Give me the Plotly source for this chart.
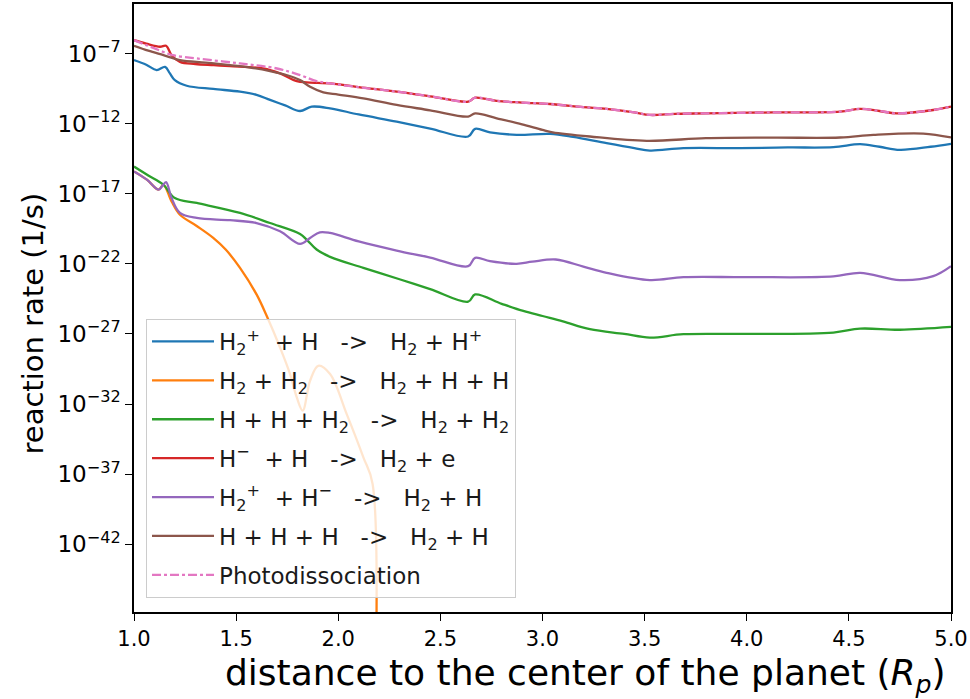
import numpy as np
import plotly.graph_objects as go

# Reaction rates along the radial grid; rates are stored as log10(rate [1/s])
x_h2p_h = [1.0, 1.06, 1.111, 1.152, 1.175, 1.2, 1.258, 1.388, 1.519, 1.6, 1.666, 1.74, 1.813, 1.87, 1.96, 2.1,
           2.286, 2.45, 2.636, 2.67, 2.743, 2.873, 3.037, 3.15, 3.314, 3.45, 3.526, 3.69, 3.967, 4.2, 4.424,
           4.555, 4.65, 4.75, 4.9, 5.0]
log_h2p_h = [-7.47, -7.8, -8.18, -7.95, -8.4, -8.9, -9.3, -9.53, -9.72, -9.95, -10.31, -10.7, -11.1, -10.79,
             -10.91, -11.35, -11.86, -12.35, -12.92, -12.37, -12.62, -12.8, -12.73, -12.95, -13.4, -13.75,
             -13.92, -13.75, -13.75, -13.7, -13.68, -13.47, -13.65, -13.87, -13.65, -13.44]

x_h2_h2 = [1.0, 1.063, 1.12, 1.144, 1.184, 1.225, 1.307, 1.388, 1.45, 1.519, 1.6, 1.65, 1.715, 1.764, 1.797,
           1.826, 1.862, 1.902, 1.96, 2.041, 2.123, 2.168, 2.17]
log_h2_h2 = [-15.41, -16.0, -16.71, -16.36, -17.55, -18.5, -19.3, -20.15, -21.0, -22.29, -24.18, -25.72,
             -27.97, -29.86, -31.53, -32.47, -30.34, -29.27, -29.86, -32.7, -35.8, -37.68, -60.0]

x_hh_h2 = [1.0, 1.07, 1.144, 1.2, 1.307, 1.519, 1.666, 1.813, 1.845, 1.894, 1.96, 2.123, 2.3, 2.45, 2.636,
           2.67, 2.8, 2.906, 3.0, 3.1, 3.232, 3.4, 3.526, 3.69, 4.0, 4.424, 4.555, 4.75, 5.0]
log_hh_h2 = [-15.06, -15.7, -16.36, -17.31, -17.66, -18.37, -19.09, -19.87, -20.27, -20.98, -21.5, -22.29,
             -23.1, -23.8, -24.7, -24.18, -24.85, -25.36, -25.72, -26.1, -26.66, -27.0, -27.26, -27.02,
             -27.0, -26.9, -26.62, -26.7, -26.5]

x_hm_h = [1.0, 1.06, 1.127, 1.157, 1.184, 1.225, 1.3, 1.39, 1.47, 1.633, 1.715, 1.797, 1.845, 1.9, 1.96, 2.1,
          2.286, 2.45, 2.636, 2.67, 2.776, 2.9, 3.037, 3.2, 3.314, 3.45, 3.526, 3.65, 3.8, 4.13, 4.457, 4.555,
          4.65, 4.734, 4.913, 5.0]
log_hm_h = [-6.05, -6.3, -6.52, -6.45, -7.12, -7.6, -7.75, -7.83, -7.9, -8.07, -8.42, -8.97, -9.06, -9.1,
            -9.13, -9.4, -9.72, -10.05, -10.43, -10.15, -10.38, -10.5, -10.6, -10.82, -10.95, -11.2, -11.38,
            -11.3, -11.27, -11.2, -11.15, -10.95, -11.1, -11.27, -11.03, -10.79]

x_h2p_hm = [1.0, 1.063, 1.12, 1.137, 1.157, 1.184, 1.225, 1.307, 1.47, 1.6, 1.715, 1.813, 1.862, 1.91, 1.96,
            2.1, 2.286, 2.45, 2.636, 2.67, 2.743, 2.873, 2.95, 3.065, 3.2, 3.314, 3.526, 3.69, 4.0, 4.424,
            4.555, 4.75, 4.913, 5.0]
log_h2p_hm = [-15.41, -16.0, -16.71, -16.48, -16.17, -17.31, -18.37, -18.73, -18.89, -19.09, -19.68, -20.58,
              -20.15, -19.75, -19.8, -20.4, -21.05, -21.55, -22.17, -21.57, -21.81, -22.0, -21.85, -21.69,
              -22.2, -22.64, -23.16, -22.95, -22.95, -22.9, -22.64, -23.16, -22.88, -22.17]

x_hhh = [1.0, 1.07, 1.144, 1.225, 1.35, 1.47, 1.57, 1.666, 1.75, 1.813, 1.862, 1.927, 2.0, 2.123, 2.286, 2.45,
         2.636, 2.67, 2.776, 2.9, 3.0, 3.05, 3.232, 3.51, 3.8, 4.13, 4.457, 4.62, 4.864, 5.0]
log_hhh = [-6.45, -6.8, -7.12, -7.47, -7.65, -7.83, -8.0, -8.25, -8.55, -8.9, -9.37, -9.77, -9.93, -10.2,
           -10.67, -11.05, -11.5, -11.27, -11.62, -12.05, -12.45, -12.62, -12.92, -13.23, -13.04, -13.0,
           -12.99, -12.8, -12.71, -12.99]

x_photo = [1.0, 1.06, 1.12, 1.19, 1.307, 1.519, 1.7, 1.813, 1.894, 1.96, 2.1, 2.286, 2.45, 2.636, 2.67, 2.776,
           2.9, 3.037, 3.2, 3.314, 3.45, 3.526, 3.65, 3.8, 4.13, 4.457, 4.555, 4.65, 4.734, 4.913, 5.0]
log_photo = [-6.05, -6.4, -6.75, -7.12, -7.35, -7.71, -8.07, -8.54, -8.97, -9.13, -9.4, -9.72, -10.05,
             -10.43, -10.15, -10.38, -10.5, -10.6, -10.82, -10.95, -11.2, -11.38, -11.3, -11.27, -11.2,
             -11.15, -10.95, -11.1, -11.27, -11.03, -10.79]

sp = "\u00a0"
names = [
    f"H<sub>2</sub><sup>+</sup>{sp*2}+ H{sp*3}->{sp*3}H<sub>2</sub> + H<sup>+</sup>",
    f"H<sub>2</sub> + H<sub>2</sub>{sp*3}->{sp*3}H<sub>2</sub> + H + H",
    f"H + H + H<sub>2</sub>{sp*3}->{sp*3}H<sub>2</sub> + H<sub>2</sub>",
    f"H<sup>\u2212</sup>{sp*2}+ H{sp*3}->{sp*3}H<sub>2</sub> + e",
    f"H<sub>2</sub><sup>+</sup>{sp*2}+ H<sup>\u2212</sup>{sp*3}->{sp*3}H<sub>2</sub> + H",
    f"H + H + H{sp*3}->{sp*3}H<sub>2</sub> + H",
    "Photodissociation",
]
series = [
    (x_h2p_h, log_h2p_h, "#1f77b4", "solid"),
    (x_h2_h2, log_h2_h2, "#ff7f0e", "solid"),
    (x_hh_h2, log_hh_h2, "#2ca02c", "solid"),
    (x_hm_h, log_hm_h, "#d62728", "solid"),
    (x_h2p_hm, log_h2p_hm, "#9467bd", "solid"),
    (x_hhh, log_hhh, "#8c564b", "solid"),
    (x_photo, log_photo, "#e377c2", "dashdot"),
]

fig = go.Figure()
for i, ((xs, ls, color, dash), name) in enumerate(zip(series, names)):
    fig.add_trace(go.Scatter(
        x=xs, y=np.power(10.0, ls), mode="lines", name=name,
        legendgroup=f"g{i}",
        line=dict(color=color, width=2.3, dash=dash, shape="spline", smoothing=1.0),
    ))

font = "DejaVu Sans"
ytick_exp = [-7, -12, -17, -22, -27, -32, -37, -42]
ytick_vals = [10.0 ** e for e in ytick_exp]
ytick_text = [f"10<sup>\u2212{abs(e)}</sup>" for e in ytick_exp]
xtick_vals = [1.0, 1.5, 2.0, 2.5, 3.0, 3.5, 4.0, 4.5, 5.0]
xtick_text = [f"{v:.1f}" for v in xtick_vals]

fig.update_layout(
    width=970, height=699,
    margin=dict(l=134, r=19, t=2, b=87),
    paper_bgcolor="white", plot_bgcolor="white",
    font=dict(family=font, color="black", size=20),
    showlegend=True,
    legend=dict(
        x=0.0147, y=0.023, xanchor="left", yanchor="bottom",
        bgcolor="rgba(255,255,255,0.8)", bordercolor="#cccccc", borderwidth=1,
        font=dict(family=font, size=23, color="#1a1a1a"),
        tracegroupgap=6, itemwidth=62,
    ),
    xaxis=dict(
        range=[1.0, 5.0], tickvals=xtick_vals, ticktext=xtick_text,
        showgrid=False, zeroline=False, showline=True, linecolor="black", linewidth=1.5,
        mirror=True, ticks="outside", ticklen=7, tickwidth=1.3, tickcolor="black",
        tickfont=dict(size=21),
    ),
    yaxis=dict(
        type="log", range=[-46.83, -3.47], tickvals=ytick_vals, ticktext=ytick_text,
        showgrid=False, zeroline=False, showline=True, linecolor="black", linewidth=1.5,
        mirror=True, ticks="outside", ticklen=7, tickwidth=1.3, tickcolor="black",
        tickfont=dict(size=23),
    ),
    annotations=[
        dict(text="distance to the center of the planet (<i>R<sub>p</sub></i>)",
             xref="paper", yref="paper", x=0.553, y=-0.105, xanchor="center", yanchor="middle",
             showarrow=False, font=dict(size=36, family=font, color="black")),
        dict(text="reaction rate (1/s)", textangle=-90,
             xref="paper", yref="paper", x=-0.124, y=0.474, xanchor="center", yanchor="middle",
             showarrow=False, font=dict(size=29, family=font, color="black")),
    ],
)

fig.write_html("out.html")
